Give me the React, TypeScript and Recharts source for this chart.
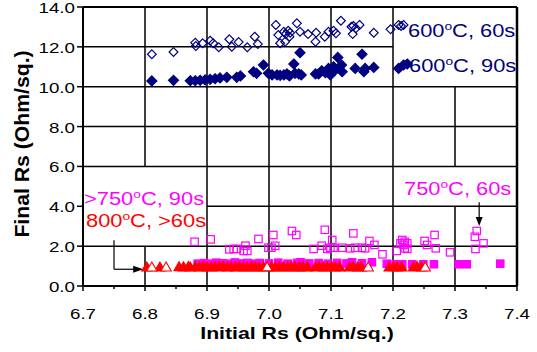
import React from 'react';
import { ScatterChart, Scatter, XAxis, YAxis, ReferenceLine, ReferenceDot } from 'recharts';

const NAVY = '#000080';
const MAGENTA = '#FF00FF';
const RED = '#FF0000';
const FONT = '"Liberation Sans", Arial, sans-serif';

const xTicks = [6.7, 6.75, 6.8, 6.85, 6.9, 6.95, 7.0, 7.05, 7.1, 7.15, 7.2, 7.25, 7.3, 7.35, 7.4];
const yTicks = [0, 2, 4, 6, 8, 10, 12, 14];

// 600ºC, 60s (open diamonds)
const open600_60 = [
  [6.811, 11.63], [6.846, 11.74], [6.881, 12.21], [6.882, 12.04], [6.893, 12.18], [6.905, 12.31],
  [6.910, 12.18], [6.919, 11.98], [6.936, 12.38], [6.940, 12.01], [6.951, 12.24], [6.965, 11.98],
  [6.977, 12.51], [6.982, 12.14], [7.011, 13.10], [7.015, 12.59], [7.018, 12.18], [7.024, 12.76],
  [7.027, 12.64], [7.031, 12.81], [7.034, 12.71], [7.033, 12.51], [7.026, 12.26], [7.045, 13.18],
  [7.050, 12.76], [7.063, 12.64], [7.076, 12.71], [7.075, 12.26], [7.090, 12.51], [7.096, 12.76],
  [7.104, 12.81], [7.108, 12.68], [7.116, 13.31], [7.133, 13.01], [7.136, 13.05], [7.140, 12.93],
  [7.146, 13.10], [7.135, 12.64], [7.169, 12.71], [7.196, 12.88], [7.209, 13.10], [7.213, 13.05],
  [7.217, 13.10],
];

// 600ºC, 90s (filled diamonds)
const filled600_90 = [
  [6.811, 10.29], [6.846, 10.32], [6.873, 10.30], [6.881, 10.30], [6.889, 10.32], [6.897, 10.34],
  [6.905, 10.37], [6.913, 10.40], [6.921, 10.44], [6.932, 10.47], [6.948, 10.47], [6.954, 10.54],
  [6.975, 10.75], [6.980, 10.67], [6.991, 11.09], [6.999, 10.67], [7.005, 10.59], [7.013, 10.59],
  [7.018, 10.57], [7.024, 10.59], [7.029, 10.64], [7.033, 10.54], [7.040, 11.14], [7.042, 10.67],
  [7.048, 10.64], [7.052, 10.59], [7.050, 11.71], [7.075, 10.64], [7.080, 10.64], [7.085, 10.80],
  [7.091, 10.70], [7.096, 10.92], [7.099, 10.59], [7.104, 11.00], [7.107, 10.84], [7.111, 11.47],
  [7.117, 11.09], [7.118, 10.75], [7.139, 10.92], [7.150, 11.63], [7.153, 10.75], [7.155, 10.92],
  [7.169, 10.97], [7.209, 10.92], [7.217, 11.09], [7.223, 11.14],
];

// 750ºC, 60s (open squares)
const open750_60 = [
  [6.880, 2.22], [6.906, 2.34], [6.936, 1.84], [6.943, 1.86], [6.948, 1.86], [6.962, 2.02],
  [6.965, 1.76], [6.959, 1.76], [6.983, 2.36], [6.999, 1.92], [7.007, 2.56], [7.037, 2.76],
  [7.044, 2.56], [7.090, 2.82], [7.136, 2.64], [7.004, 1.92], [7.010, 2.02], [7.072, 1.86],
  [7.085, 2.02], [7.094, 1.86], [7.102, 2.31], [7.104, 1.92], [7.099, 1.92], [7.118, 1.92],
  [7.131, 1.89], [7.139, 1.92], [7.150, 1.92], [7.155, 1.89], [7.162, 2.26], [7.170, 2.06],
  [7.183, 1.59], [7.206, 1.76], [7.215, 2.31], [7.217, 2.06], [7.219, 2.22], [7.223, 2.14],
  [7.212, 2.14], [7.219, 1.89], [7.223, 1.86], [7.251, 2.26], [7.255, 2.06], [7.267, 2.56],
  [7.269, 1.89], [7.292, 1.69], [7.335, 2.76], [7.332, 2.47], [7.346, 2.14], [7.333, 1.86],
];

// >750ºC, 90s (filled squares)
const filled750_90 = [
  [6.885, 1.12], [6.895, 1.15], [6.905, 1.12], [6.915, 1.17], [6.925, 1.14], [6.935, 1.12],
  [6.945, 1.18], [6.955, 1.13], [6.965, 1.16], [6.975, 1.12], [6.985, 1.15], [7.0, 1.13],
  [7.015, 1.17], [7.03, 1.12], [7.045, 1.16], [7.051, 1.19], [7.065, 1.13], [7.08, 1.15],
  [7.095, 1.12], [7.11, 1.16], [7.125, 1.13], [7.134, 1.19], [7.15, 1.14], [7.166, 1.19],
  [7.19, 1.12], [7.204, 1.09], [7.215, 1.09], [7.231, 1.09], [7.249, 1.09], [7.266, 1.09],
  [7.306, 1.09], [7.319, 1.09], [7.373, 1.12],
];

// 800ºC, >60s (filled triangles)
const filled800 = [
  [6.803, 0.95], [6.824, 0.95], [6.855, 0.97], [6.862, 0.96], [6.870, 0.98], [6.873, 0.95],
  [6.881, 0.97], [6.888, 0.95], [6.894, 0.99], [6.900, 0.96], [6.907, 0.95], [6.913, 0.98],
  [6.920, 0.96], [6.926, 1.00], [6.933, 0.95], [6.939, 0.97], [6.946, 0.95], [6.952, 0.98],
  [6.959, 0.96], [6.965, 0.95], [6.972, 0.99], [6.978, 0.96], [6.984, 0.95], [6.991, 0.97],
  [7.004, 0.96], [7.010, 0.95], [7.017, 0.98], [7.023, 0.96], [7.030, 0.95], [7.036, 0.99],
  [7.042, 0.96], [7.049, 0.95], [7.055, 0.97], [7.062, 0.96], [7.075, 0.95], [7.081, 0.98],
  [7.088, 0.96], [7.094, 0.95], [7.101, 0.99], [7.107, 0.96], [7.114, 0.95], [7.130, 0.96],
  [7.136, 0.98], [7.143, 0.95], [7.149, 0.96], [7.194, 0.95], [7.201, 0.97], [7.207, 0.96],
  [7.214, 0.95], [7.233, 0.96], [7.239, 0.98], [7.246, 0.95],
];

// open triangles
const open800 = [
  [6.811, 0.95], [6.834, 0.95], [6.997, 0.96], [7.160, 0.95], [7.252, 0.95],
];

const toPts = (arr: number[][]) => arr.map(([x, y]) => ({ x, y }));

const FULL_X: [number, number] = [6.7, 7.4];
const hGrid = [
  { y: 2, x1: 6.7, x2: 7.4 },
  { y: 4, x1: 6.9, x2: 7.4 },
  { y: 6, x1: 6.7, x2: 7.4 },
  { y: 8, x1: 6.7, x2: 7.4 },
  { y: 10, x1: 6.7, x2: 7.4 },
  { y: 12, x1: 6.7, x2: 7.2 },
];
const vGrid = [
  { x: 6.8, y1: 0, y2: 2 },
  { x: 6.8, y1: 6, y2: 14 },
  { x: 6.9, y1: 0, y2: 14 },
  { x: 7.0, y1: 0, y2: 14 },
  { x: 7.1, y1: 0, y2: 14 },
  { x: 7.2, y1: 0, y2: 14 },
  { x: 7.3, y1: 0, y2: 4 },
  { x: 7.3, y1: 6, y2: 10 },
];

const diamond = (filled: boolean) => (p: any) => {
  const { cx, cy } = p;
  const r = filled ? 5 : 4.4;
  return (
    <path
      d={`M${cx},${cy - r}L${cx + r},${cy}L${cx},${cy + r}L${cx - r},${cy}Z`}
      fill={filled ? NAVY : 'none'}
      stroke={NAVY}
      strokeWidth={1.2}
    />
  );
};

const square = (filled: boolean) => (p: any) => {
  const { cx, cy } = p;
  const h = 3.7;
  return (
    <rect x={cx - h} y={cy - h} width={2 * h} height={2 * h} fill={filled ? MAGENTA : 'none'} stroke={MAGENTA} strokeWidth={1.2} />
  );
};

const triangle = (filled: boolean) => (p: any) => {
  const { cx, cy } = p;
  return (
    <path
      d={`M${cx},${cy - 5}L${cx + 5.2},${cy + 4}L${cx - 5.2},${cy + 4}Z`}
      fill={filled ? RED : '#fff'}
      stroke={RED}
      strokeWidth={1.1}
    />
  );
};

const arrowRight = (p: any) => {
  const { cx, cy } = p;
  return <path d={`M${cx - 5},${cy - 3.5}L${cx + 5},${cy}L${cx - 5},${cy + 3.5}Z`} fill="#000" />;
};
const arrowDown = (p: any) => {
  const { cx, cy } = p;
  return <path d={`M${cx - 3.5},${cy - 4.5}L${cx + 3.5},${cy - 4.5}L${cx},${cy + 4.5}Z`} fill="#000" />;
};

const XTick = (props: any) => {
  const { x, y, payload } = props;
  const v = payload.value;
  const major = Math.abs(Math.round(v * 10) - v * 10) < 1e-6;
  return (
    <g>
      <line x1={x} x2={x} y1={y} y2={y + (major ? 5 : 3)} stroke="#000" strokeWidth={1.5} />
      {major && (
        <g transform={`translate(${x},${y + 33}) scale(1.25,1)`}>
          <text x={0} y={0} textAnchor="middle" fontSize={15} fontFamily={FONT} fill="#000">
            {v.toFixed(1)}
          </text>
        </g>
      )}
    </g>
  );
};

const YTick = (props: any) => {
  const { x, y, payload } = props;
  const v = payload.value;
  return (
    <g>
      <line x1={x - 6} x2={x} y1={y} y2={y} stroke="#000" strokeWidth={1.5} />
      <g transform={`translate(${x - 8},${y + 6}) scale(1.25,1)`}>
        <text x={0} y={0} textAnchor="end" fontSize={15} fontFamily={FONT} fill="#000">
          {v.toFixed(1)}
        </text>
      </g>
    </g>
  );
};

const Ann = ({ x, y, color, pre, post }: any) => (
  <g transform={`translate(${x},${y}) scale(1.25,1)`}>
    <text x={0} y={0} fontSize={17.5} fontFamily={FONT} fill={color}>
      {pre}
      <tspan fontSize={11} dy={-7}>o</tspan>
      <tspan dy={7}>{post}</tspan>
    </text>
  </g>
);

export default function App() {
  return (
    <div style={{ position: 'absolute', left: 0, top: 0, width: 537, height: 352, background: '#fff' }}>
      <ScatterChart width={537} height={352} margin={{ top: 7, right: 20, bottom: 26, left: 0 }}>
        <XAxis
          type="number"
          dataKey="x"
          domain={FULL_X}
          ticks={xTicks}
          interval={0}
          height={40}
          tickSize={0}
          tickMargin={0}
          tickLine={false}
          axisLine={{ stroke: '#000', strokeWidth: 2 }}
          tick={(p: any) => <XTick {...p} />}
          allowDataOverflow
        />
        <YAxis
          type="number"
          dataKey="y"
          domain={[0, 14]}
          ticks={yTicks}
          interval={0}
          width={83}
          tickSize={0}
          tickMargin={0}
          tickLine={false}
          axisLine={{ stroke: '#000', strokeWidth: 2 }}
          tick={(p: any) => <YTick {...p} />}
          allowDataOverflow
        />
        {hGrid.map((g, i) => (
          <ReferenceLine key={'h' + i} segment={[{ x: g.x1, y: g.y }, { x: g.x2, y: g.y }]} stroke="#000" strokeWidth={1.5} />
        ))}
        {vGrid.map((g, i) => (
          <ReferenceLine key={'v' + i} segment={[{ x: g.x, y: g.y1 }, { x: g.x, y: g.y2 }]} stroke="#000" strokeWidth={1.5} />
        ))}
        <ReferenceLine y={14} stroke="#000" strokeWidth={2} />
        <ReferenceLine x={7.4} stroke="#000" strokeWidth={2.5} />
        {/* arrows */}
        <ReferenceLine segment={[{ x: 6.75, y: 2.3 }, { x: 6.75, y: 0.84 }]} stroke="#000" strokeWidth={1.2} />
        <ReferenceLine segment={[{ x: 6.75, y: 0.84 }, { x: 6.785, y: 0.84 }]} stroke="#000" strokeWidth={1.2} />
        <ReferenceDot x={6.789} y={0.84} r={5} shape={arrowRight} />
        <ReferenceLine segment={[{ x: 7.339, y: 4.2 }, { x: 7.339, y: 3.4 }]} stroke="#000" strokeWidth={1.2} />
        <ReferenceDot x={7.339} y={3.24} r={5} shape={arrowDown} />

        <Scatter name="600ºC, 60s" data={toPts(open600_60)} shape={diamond(false)} isAnimationActive={false} />
        <Scatter name="600ºC, 90s" data={toPts(filled600_90)} shape={diamond(true)} isAnimationActive={false} />
        <Scatter name="750ºC, 60s" data={toPts(open750_60)} shape={square(false)} isAnimationActive={false} />
        <Scatter name=">750ºC, 90s" data={toPts(filled750_90)} shape={square(true)} isAnimationActive={false} />
        <Scatter name="800ºC, >60s" data={toPts(filled800)} shape={triangle(true)} isAnimationActive={false} />
        <Scatter name="800ºC, >60s (b)" data={toPts(open800)} shape={triangle(false)} isAnimationActive={false} />
      </ScatterChart>
      <svg width={537} height={352} style={{ position: 'absolute', left: 0, top: 0, pointerEvents: 'none' }}>
        <Ann x={408} y={36.7} color={NAVY} pre="600" post="C, 60s" />
        <Ann x={409} y={71.7} color={NAVY} pre="600" post="C, 90s" />
        <Ann x={84} y={205} color={MAGENTA} pre=">750" post="C, 90s" />
        <Ann x={86} y={227.3} color={RED} pre="800" post="C, >60s" />
        <Ann x={404} y={195} color={MAGENTA} pre="750" post="C, 60s" />
        <g transform="translate(297,339) scale(1.25,1)">
          <text x={0} y={0} textAnchor="middle" fontSize={17} fontWeight="bold" fontFamily={FONT} fill="#000">
            Initial Rs (Ohm/sq.)
          </text>
        </g>
        <g transform="translate(29,144) rotate(-90) scale(1.06,1)">
          <text x={0} y={0} textAnchor="middle" fontSize={20} fontWeight="bold" fontFamily={FONT} fill="#000">
            Final Rs (Ohm/sq.)
          </text>
        </g>
      </svg>
    </div>
  );
}
